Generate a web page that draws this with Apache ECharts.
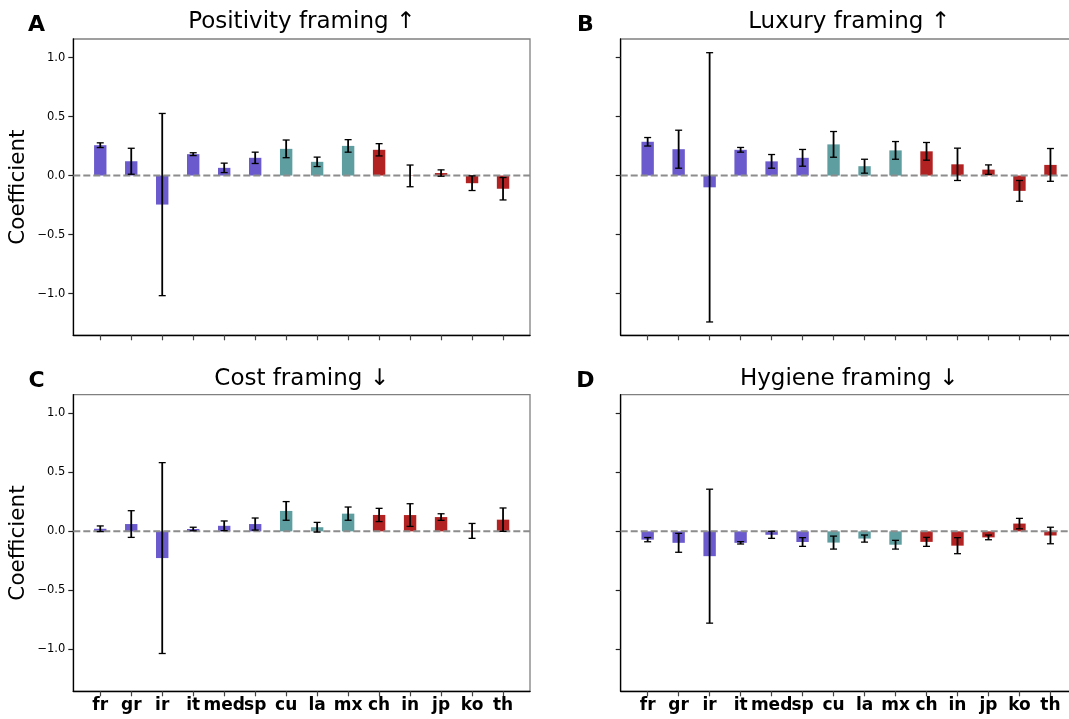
<!DOCTYPE html>
<html>
<head>
<meta charset="utf-8">
<script src="https://cdn.jsdelivr.net/npm/echarts@6/dist/echarts.min.js"></script>
<style>
html,body{margin:0;padding:0;background:#fff;overflow:hidden;}
#chart{width:1069px;height:719px;}
</style>
</head>
<body>
<div id="chart"></div>
<script>
// ---------- data ----------
const categories = ['fr','gr','ir','it','med','sp','cu','la','mx','ch','in','jp','ko','th'];
const regions    = ['eu','eu','eu','eu','eu','eu','lat','lat','lat','asia','asia','asia','asia','asia'];
const yTickValues = [-1.0, -0.5, 0.0, 0.5, 1.0];
const panelTitles = ['Positivity framing \u2191', 'Luxury framing \u2191', 'Cost framing \u2193', 'Hygiene framing \u2193'];
const panelLetters = ['A', 'B', 'C', 'D'];

const posVal  = [0.257, 0.121, -0.246, 0.181, 0.065, 0.150, 0.226, 0.116, 0.251, 0.218, -0.003, 0.021, -0.065, -0.112];
const posErr  = [0.020, 0.110, 0.772, 0.012, 0.040, 0.048, 0.075, 0.040, 0.053, 0.052, 0.092, 0.027, 0.062, 0.095];
const luxVal  = [0.286, 0.223, -0.100, 0.218, 0.120, 0.150, 0.264, 0.079, 0.213, 0.205, 0.095, 0.050, -0.130, 0.090];
const luxErr  = [0.036, 0.161, 1.141, 0.020, 0.058, 0.071, 0.109, 0.059, 0.075, 0.075, 0.137, 0.040, 0.088, 0.139];
const costVal = [0.022, 0.062, -0.226, 0.020, 0.047, 0.062, 0.173, 0.035, 0.150, 0.139, 0.138, 0.121, 0.004, 0.099];
const costErr = [0.024, 0.113, 0.808, 0.015, 0.041, 0.051, 0.079, 0.041, 0.056, 0.056, 0.096, 0.028, 0.063, 0.099];
const hygVal  = [-0.070, -0.097, -0.210, -0.097, -0.029, -0.090, -0.095, -0.061, -0.113, -0.089, -0.121, -0.051, 0.066, -0.035];
const hygErr  = [0.018, 0.080, 0.567, 0.010, 0.030, 0.037, 0.055, 0.030, 0.037, 0.038, 0.068, 0.020, 0.044, 0.070];

// ---------- styling / layout ----------
const regionColor = {eu:'#6A5ACD', lat:'#5F9EA0', asia:'#B22222'};
const FONT = "'DejaVu Sans', sans-serif";
const BAR_W = 0.4;
const XMIN = -0.87, XMAX = 13.87;
const YMIN = -1.354, YMAX = 1.157;
const PW = 456.7;
const gridsPos = [
  {left:73.3, top:39, width:PW, height:296.3},
  {left:620.7, top:39, width:PW, height:296.3},
  {left:73.3, top:394.7, width:PW, height:296.6},
  {left:620.7, top:394.7, width:PW, height:296.6}
];
const panelData = [[posVal,posErr],[luxVal,luxErr],[costVal,costErr],[hygVal,hygErr]];
const catIdx = categories.map((c,i)=>i);

// the figure is wider than the window: its right edge is cropped off
const el = document.getElementById('chart');
el.style.width = '1085px';

const grid = [], xAxis = [], yAxis = [], series = [], graphic = [];
gridsPos.forEach((g,p)=>{
  grid.push(Object.assign({show:true, borderColor:'#808080', borderWidth:1.3, backgroundColor:'transparent'}, g));
  xAxis.push({
    type:'value', gridIndex:p, min:XMIN, max:XMAX,
    splitLine:{show:false},
    axisLine:{show:true, onZero:false, lineStyle:{color:'#000', width:1.3}},
    axisTick:{show:true, customValues:catIdx, length:5, lineStyle:{color:'#444', width:1.2}},
    axisLabel:{show:p>=2, customValues:catIdx, formatter:(v)=>categories[Math.round(v)],
      fontFamily:FONT, fontSize:17, fontWeight:'bold', color:'#000', margin:6}
  });
  yAxis.push({
    type:'value', gridIndex:p, min:YMIN, max:YMAX,
    splitLine:{show:false},
    axisLine:{show:true, onZero:false, lineStyle:{color:'#000', width:1.3}},
    axisTick:{show:true, customValues:yTickValues, length:5, lineStyle:{color:'#222', width:1.2}},
    axisLabel:{show:p%2===0, customValues:yTickValues,
      formatter:(v)=> (v<0?'\u2212':'') + Math.abs(v).toFixed(1),
      fontFamily:FONT, fontSize:11.5, color:'#000', margin:8},
    name: p%2===0 ? 'Coefficient' : '',
    nameLocation:'middle', nameGap:44, nameRotate:90,
    nameTextStyle:{fontFamily:FONT, fontSize:21.5, color:'#000'}
  });
  const [vals, errs] = panelData[p];
  // bars
  series.push({
    type:'custom', xAxisIndex:p, yAxisIndex:p, z:2, silent:true,
    data: vals.map((v,i)=>[i, v]),
    renderItem:(params, api)=>{
      const i = api.value(0), v = api.value(1);
      const a = api.coord([i - BAR_W/2, Math.max(v,0)]);
      const b = api.coord([i + BAR_W/2, Math.min(v,0)]);
      return {type:'rect', shape:{x:a[0], y:a[1], width:b[0]-a[0], height:b[1]-a[1]},
        style:{fill: regionColor[regions[i]]}};
    }
  });
  // zero line
  series.push({
    type:'line', xAxisIndex:p, yAxisIndex:p, z:3, silent:true, showSymbol:false, symbol:'none',
    data:[[XMIN,0],[XMAX,0]],
    lineStyle:{color:'#8c8c8c', width:2, type:[7,3]}
  });
  // error bars
  series.push({
    type:'custom', xAxisIndex:p, yAxisIndex:p, z:4, silent:true,
    data: vals.map((v,i)=>[i, v - errs[i], v + errs[i]]),
    renderItem:(params, api)=>{
      const i = api.value(0);
      const lo = api.coord([i, api.value(1)]);
      const hi = api.coord([i, api.value(2)]);
      const cap = 3.5;
      return {type:'group', children:[
        {type:'line', shape:{x1:lo[0], y1:lo[1], x2:hi[0], y2:hi[1]}, style:{stroke:'#000', lineWidth:1.8}},
        {type:'line', shape:{x1:lo[0]-cap, y1:lo[1], x2:lo[0]+cap, y2:lo[1]}, style:{stroke:'#000', lineWidth:1.3}},
        {type:'line', shape:{x1:hi[0]-cap, y1:hi[1], x2:hi[0]+cap, y2:hi[1]}, style:{stroke:'#000', lineWidth:1.3}}
      ]};
    }
  });
  // title and panel letter
  const cx = g.left + PW/2;
  const ty = p < 2 ? 22 : 379;
  graphic.push({type:'text', silent:true, style:{text:panelTitles[p], x:cx, y:ty, textAlign:'center', textVerticalAlign:'middle',
    font:`23px ${FONT}`, fill:'#000'}});
  graphic.push({type:'text', silent:true, style:{text:panelLetters[p], x: p%2===0 ? 36.5 : 585.5, y: p<2 ? 25 : 381,
    textAlign:'center', textVerticalAlign:'middle', font:`bold 22px ${FONT}`, fill:'#000'}});
});

const chart = echarts.init(el, null, {renderer:'canvas'});
chart.setOption({
  animation:false,
  backgroundColor:'#fff',
  grid, xAxis, yAxis, series, graphic
});
</script>
</body>
</html>
